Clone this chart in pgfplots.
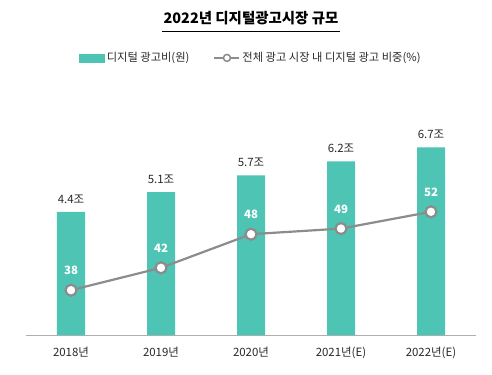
\documentclass[border=0pt]{standalone}
\usepackage{pgfplots}
\pgfplotsset{compat=1.18}
\usepackage{fontspec}
\setmainfont{Noto Sans CJK KR}
\definecolor{barteal}{RGB}{77,196,180}
\definecolor{linegray}{RGB}{140,140,140}
\definecolor{txtdark}{RGB}{40,40,40}
\begin{document}
\begin{tikzpicture}
\path[use as bounding box] (-26bp,-40bp) rectangle (466bp,335bp);
\begin{axis}[
  at={(0,0)}, anchor=south west,
  scale only axis, width=450bp, height=224bp,
  xmin=-0.5, xmax=4.5, ymin=0, ymax=8,
  axis x line*=bottom, axis y line=none,
  axis line style={draw=linegray!70},
  xtick={0,1,2,3,4},
  xticklabels={2018년,2019년,2020년,2021년(E),2022년(E)},
  major x tick style={draw=none},
  extra x ticks={-0.5,0.5,1.5,2.5,3.5,4.5},
  extra x tick labels={},
  extra x tick style={major tick length=4bp, tick align=outside, tick style={draw=linegray!70}},
  xticklabel style={font=\fontsize{11.5}{13}\selectfont, text=txtdark, yshift=-4bp},
  /pgf/number format/assume math mode=true,
  ybar, bar width=28bp,
  nodes near coords={\pgfmathprintnumber[fixed,fixed zerofill,precision=1]{\pgfplotspointmeta}조},
  nodes near coords style={font=\fontsize{11.5}{13}\selectfont, text=txtdark, yshift=5bp},
]
\addplot[fill=barteal, draw=none] coordinates {(0,4.4) (1,5.1) (2,5.7) (3,6.2) (4,6.7)};
\end{axis}
\begin{axis}[
  at={(0,0)}, anchor=south west,
  scale only axis, width=450bp, height=224bp,
  xmin=-0.5, xmax=4.5, ymin=30, ymax=70,
  hide axis,
  /pgf/number format/assume math mode=true,
  nodes near coords,
  nodes near coords style={font=\fontsize{11.5}{12}\selectfont\bfseries, text=white, yshift=11bp},
  legend columns=2,
  legend style={at={(0.5,1.237)}, anchor=center, draw=none, fill=none,
    font=\fontsize{11.3}{13}\selectfont, text=txtdark,
    /tikz/every even column/.append style={column sep=22bp}},
]
\addlegendimage{legend image code/.code={\fill[barteal] (0bp,-4bp) rectangle (25bp,4bp);}}
\addlegendentry{디지털 광고비(원)}
\addplot[draw=linegray, line width=2.2bp, mark=*, mark size=5.5bp,
  mark options={fill=white, draw=linegray, line width=2.2bp},
  legend image code/.code={\draw[linegray, line width=2bp] (0bp,0bp) -- (25bp,0bp);
    \draw[linegray, line width=1.5bp, fill=white] (12.5bp,0bp) circle (3.5bp);}]
  coordinates {(0,38) (1,42) (2,48) (3,49) (4,52)};
\addlegendentry{전체 광고 시장 내 디지털 광고 비중(\%)}
\end{axis}
\node[font=\fontsize{14.5}{16}\selectfont\bfseries, text=black] at (225bp,317bp) {2022년 디지털광고시장 규모};
\draw[black, line width=0.8bp] (136bp,304bp) -- (314bp,304bp);
\end{tikzpicture}
\end{document}
